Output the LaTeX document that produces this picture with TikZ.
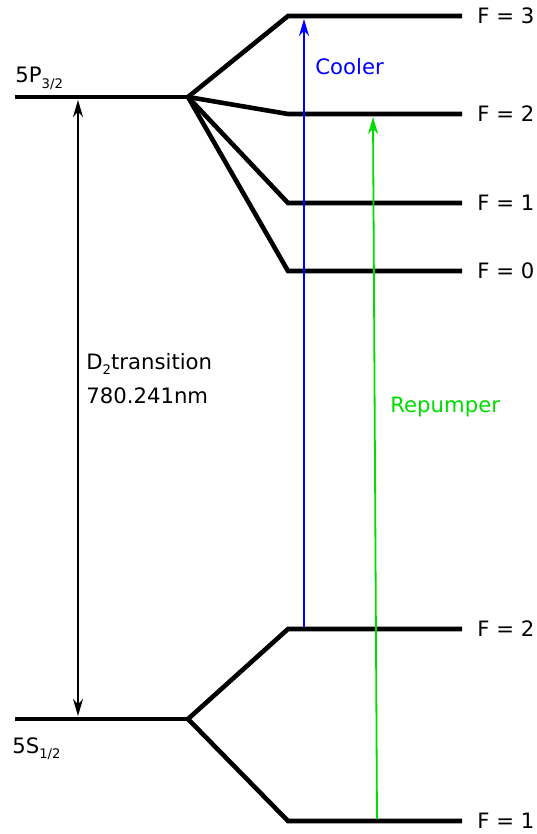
\documentclass[tikz,border=0pt]{standalone}
\usepackage{fontspec}
\setmainfont{DejaVu Sans}
\usepackage{tikz}
\usetikzlibrary{arrows.meta}
\usepackage{xcolor}
\definecolor{coolblue}{RGB}{0,0,255}
\definecolor{repgreen}{RGB}{0,220,0}
\newcommand{\lvsub}[1]{\raisebox{-0.28em}{\fontsize{6.6}{8}\selectfont #1}}

\begin{document}
\begin{tikzpicture}[x=0.5pt,y=-0.5pt,>={Stealth[length=8.5pt,width=5pt,inset=2.6pt]},
  font=\fontsize{10.6}{13}\selectfont,
  level/.style={line width=2.3pt,line join=miter},
  lbl/.style={inner sep=0pt},
  beam/.style={->,line width=0.9pt}]
\useasboundingbox (0,0) rectangle (536,834);
% fine structure levels
\coordinate (pL) at (15,97);
\coordinate (pR) at (188,97);
\coordinate (sL) at (15,719);
\coordinate (sR) at (188,719);
\draw[level] (pL) -- (pR);
\draw[level] (sL) -- (sR);
% hyperfine levels of 5P3/2
\foreach \f/\y in {3/16,2/114,1/203,0/271}{
  \coordinate (e\f a) at (288,\y);
  \coordinate (e\f b) at (462,\y);
  \draw[level] (pR) -- (e\f a) -- (e\f b);
  \node[lbl,anchor=west] (fe\f) at (477,\y) {F = \f};
}
% hyperfine levels of 5S1/2
\foreach \f/\y in {2/629,1/821}{
  \coordinate (g\f a) at (288,\y);
  \coordinate (g\f b) at (462,\y);
  \draw[level] (sR) -- (g\f a) -- (g\f b);
  \node[lbl,anchor=west] (fg\f) at (477,\y) {F = \f};
}
\node[lbl,anchor=base west] (pname) at (15,83) {5P\lvsub{3/2}};
\node[lbl,anchor=base west] (sname) at (12,753) {5S\lvsub{1/2}};
% D2 line
\coordinate (dtop) at (78,100);
\coordinate (dbot) at (78,716);
\draw[<->,line width=0.9pt] (dtop) -- (dbot);
\node[lbl,anchor=base west] (dname) at (86,369) {D\lvsub{2}transition};
\node[lbl,anchor=base west] (dwave) at (86,403) {780.241nm};
% cooler and repumper
\coordinate (cbot) at (304,627);
\coordinate (ctop) at (304,19);
\draw[beam,coolblue] (cbot) -- (ctop);
\node[lbl,anchor=base west,text=coolblue] (cool) at (315,75) {Cooler};
\coordinate (rbot) at (377,819);
\coordinate (rtop) at (373,117);
\draw[beam,repgreen] (rbot) -- (rtop);
\node[lbl,anchor=base west,text=repgreen] (rep) at (390,412) {Repumper};
\end{tikzpicture}
\end{document}
